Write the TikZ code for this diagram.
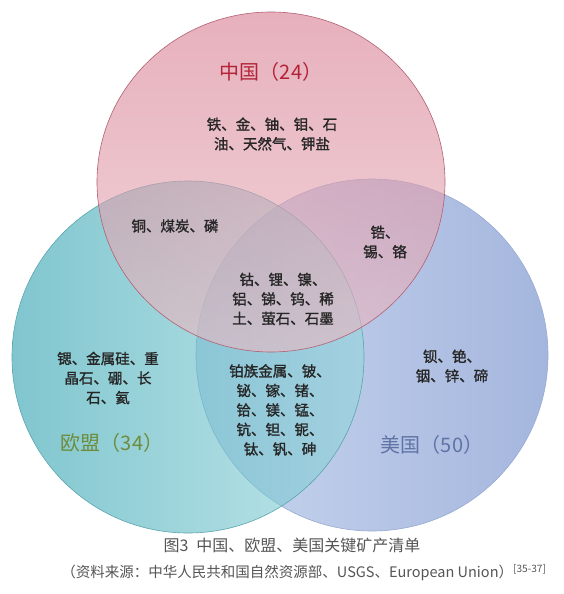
\documentclass[tikz,border=0pt]{standalone}
\usepackage{fontspec}
\setmainfont{Noto Sans CJK SC}
\newfontfamily\lblfont{Noto Sans CJK SC}[FakeBold=1.3]
\usepackage{tikz}
\definecolor{cntop}{RGB}{214,125,145}
\definecolor{cnbot}{RGB}{236,186,194}
\definecolor{cnline}{RGB}{180,95,115}
\definecolor{cntext}{RGB}{180,35,55}
\definecolor{euleft}{RGB}{45,160,175}
\definecolor{euright}{RGB}{150,215,220}
\definecolor{euline}{RGB}{90,165,175}
\definecolor{eutext}{RGB}{110,140,60}
\definecolor{usleft}{RGB}{200,214,238}
\definecolor{usright}{RGB}{165,182,222}
\definecolor{usline}{RGB}{150,170,210}
\definecolor{ustext}{RGB}{95,115,165}
\definecolor{captext}{RGB}{85,85,85}

\begin{document}
\begin{tikzpicture}[x=1pt,y=-1pt,
  font=\lblfont\fontsize{14.5}{19.5}\selectfont,
  lbl/.style={align=center,inner sep=0pt,text=black!85},
  ttl/.style={font=\fontsize{20}{24}\selectfont,inner sep=0pt},
  captxt/.style={inner sep=0pt,text=captext},
  ring/.style={line width=0.6pt}]
\useasboundingbox (0,0) rectangle (564,594);
\fill[white] (0,0) rectangle (564,594);
\shade[left color=usleft,right color=usright] (372,355) circle[radius=176pt];
\draw[ring,draw=usline] (372,355) circle[radius=176pt];
\shade[left color=euleft,right color=euright,fill opacity=0.6] (188,357) circle[radius=176pt];
\draw[ring,draw=euline] (188,357) circle[radius=176pt];
\shade[top color=cntop,bottom color=cnbot,fill opacity=0.6] (271,182) ellipse[x radius=174pt,y radius=170pt];
\draw[ring,draw=cnline] (271,182) ellipse[x radius=174pt,y radius=170pt];
\node[ttl,text=cntext] (cn) at (271,72) {中国（24）};
\node[ttl,text=eutext] (eu) at (112,443) {欧盟（34）};
\node[ttl,text=ustext] (us) at (432,445) {美国（50）};
\node[lbl] (cnonly) at (272,134) {铁、金、铀、钼、石\\油、天然气、钾盐};
\node[lbl] (cneu) at (175,226) {铜、煤炭、磷};
\node[lbl] (cnus) at (385,242) {锆、\\锡、铬};
\node[lbl] (all) at (283,299) {钴、锂、镍、\\铝、锑、钨、稀\\土、萤石、石墨};
\node[lbl] (euonly) at (108,378) {锶、金属硅、重\\晶石、硼、长\\石、氦};
\node[lbl] (euus) at (280,410) {铂族金属、铍、\\铋、镓、锗、\\铪、镁、锰、\\钪、钽、铌、\\钛、钒、砷};
\node[lbl] (usonly) at (452,366) {钡、铯、\\铟、锌、碲};
\node[captxt,font=\rmfamily\fontsize{16}{19}\selectfont] (title) at (292,545) {图3\enspace 中国、欧盟、美国关键矿产清单};
\node[captxt,font=\rmfamily\fontsize{14.5}{17}\selectfont] (source) at (304,573) {（资料来源：中华人民共和国自然资源部、USGS、European Union）\textsuperscript{[35-37]}};
\end{tikzpicture}
\end{document}
